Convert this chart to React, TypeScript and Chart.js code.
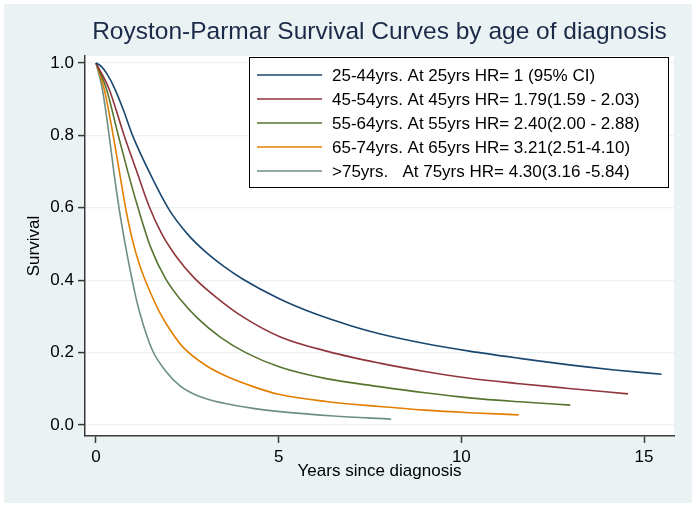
import React, { useEffect, useRef } from "react";
import { Chart, registerables } from "chart.js";

Chart.register(...registerables);

// ---------- data ----------
const chartTitle = "Royston-Parmar Survival Curves by age of diagnosis";
const xAxisTitle = "Years since diagnosis";
const yAxisTitle = "Survival";

const seriesLabels = [
  "25-44yrs. At 25yrs HR= 1 (95% CI)",
  "45-54yrs. At 45yrs HR= 1.79(1.59 - 2.03)",
  "55-64yrs. At 55yrs HR= 2.40(2.00 - 2.88)",
  "65-74yrs. At 65yrs HR= 3.21(2.51-4.10)",
  ">75yrs.   At 75yrs HR= 4.30(3.16 -5.84)",
];

const seriesColors = ["#1a476f", "#90353b", "#55752f", "#e37e00", "#6e8e84"];

const years25to44 = [0, 0.15, 0.3, 0.5, 0.75, 1.0, 1.5, 2.0, 2.5, 3.0, 3.5, 4.0, 5.03, 6.0, 6.95, 7.76, 9.0, 10.22, 11.6, 12.95, 14.2, 15.48];
const surv25to44 = [1.0, 0.99, 0.97, 0.932, 0.87, 0.8, 0.69, 0.595, 0.528, 0.478, 0.438, 0.404, 0.348, 0.307, 0.275, 0.252, 0.225, 0.204, 0.184, 0.166, 0.152, 0.14];

const years45to54 = [0, 0.35, 0.77, 1.1, 1.45, 1.8, 2.2, 2.7, 3.3, 4.0, 5.03, 6.39, 7.76, 9.0, 10.22, 11.6, 12.95, 14.56];
const surv45to54 = [1.0, 0.93, 0.8, 0.705, 0.605, 0.528, 0.465, 0.405, 0.352, 0.3, 0.244, 0.202, 0.171, 0.148, 0.129, 0.114, 0.101, 0.086];

const years55to64 = [0, 0.28, 0.61, 0.87, 1.15, 1.5, 1.9, 2.3, 2.8, 3.4, 4.1, 5.03, 6.3, 7.76, 9.0, 10.22, 11.6, 12.98];
const surv55to64 = [1.0, 0.93, 0.8, 0.7, 0.6, 0.49, 0.405, 0.348, 0.293, 0.243, 0.2, 0.16, 0.128, 0.106, 0.089, 0.075, 0.064, 0.055];

const years65to74 = [0, 0.22, 0.47, 0.64, 0.81, 1.0, 1.2, 1.45, 1.75, 2.1, 2.4, 3.0, 3.6, 4.3, 5.03, 6.3, 7.76, 9.0, 10.22, 11.57];
const surv65to74 = [1.0, 0.93, 0.8, 0.7, 0.6, 0.51, 0.44, 0.375, 0.31, 0.252, 0.213, 0.165, 0.133, 0.106, 0.084, 0.065, 0.051, 0.041, 0.034, 0.028];

const years75plus = [0, 0.17, 0.36, 0.5, 0.63, 0.78, 0.95, 1.12, 1.3, 1.55, 1.9, 2.3, 2.8, 3.5, 4.3, 5.03, 6.5, 8.08];
const surv75plus = [1.0, 0.93, 0.8, 0.69, 0.6, 0.51, 0.42, 0.34, 0.275, 0.205, 0.15, 0.108, 0.08, 0.06, 0.046, 0.037, 0.025, 0.016];

const xTicks = [0, 5, 10, 15];
const yTicks = [0, 0.2, 0.4, 0.6, 0.8, 1.0];

// ---------- styling ----------
const FONT = "'Liberation Sans', Arial, sans-serif";
const BG = "#eaf2f3";
const AXIS = "#3a3a3a";
const TEXT = "#000000";
const TITLE = "#1a2a48";

const seriesX = [years25to44, years45to54, years55to64, years65to74, years75plus];
const seriesY = [surv25to44, surv45to54, surv55to64, surv65to74, surv75plus];

const plotBgPlugin = {
  id: "plotBg",
  beforeDraw(chart: any) {
    const { ctx, chartArea } = chart;
    ctx.save();
    ctx.fillStyle = "#ffffff";
    ctx.fillRect(chartArea.left, chartArea.top, chartArea.right - chartArea.left, chartArea.bottom - chartArea.top);
    ctx.restore();
  },
};

const plotTitlePlugin = {
  id: "plotTitle",
  afterDraw(chart: any) {
    const { ctx, chartArea } = chart;
    ctx.save();
    ctx.fillStyle = TITLE;
    ctx.font = `24.5px ${FONT}`;
    ctx.textAlign = "center";
    ctx.textBaseline = "middle";
    ctx.fillText(chartTitle, (chartArea.left + chartArea.right) / 2, 28);
    ctx.restore();
  },
};

const boxLegendPlugin = {
  id: "boxLegend",
  afterDatasetsDraw(chart: any) {
    const { ctx, chartArea } = chart;
    const w = 419;
    const h = 130;
    const x0 = Math.round(chartArea.right - 6 - w);
    const y0 = Math.round(chartArea.top + 1);
    ctx.save();
    ctx.fillStyle = "#ffffff";
    ctx.fillRect(x0, y0, w, h);
    ctx.strokeStyle = "#000000";
    ctx.lineWidth = 1;
    ctx.strokeRect(x0 + 0.5, y0 + 0.5, w, h);
    chart.data.datasets.forEach((ds: any, i: number) => {
      const y = y0 + 18 + i * 24;
      ctx.strokeStyle = ds.borderColor;
      ctx.lineWidth = 1.6;
      ctx.beginPath();
      ctx.moveTo(x0 + 8, y);
      ctx.lineTo(x0 + 73, y);
      ctx.stroke();
      ctx.fillStyle = TEXT;
      ctx.font = `17px ${FONT}`;
      ctx.textBaseline = "middle";
      ctx.textAlign = "left";
      ctx.fillText(ds.label, x0 + 83, y + 1);
    });
    ctx.restore();
  },
};

export default function App() {
  const ref = useRef<HTMLCanvasElement | null>(null);

  useEffect(() => {
    if (!ref.current) return;
    Chart.defaults.font.family = FONT;
    const datasets = seriesLabels.map((label, i) => ({
      label,
      data: seriesX[i].map((x, j) => ({ x, y: seriesY[i][j] })),
      borderColor: seriesColors[i],
      backgroundColor: seriesColors[i],
      borderWidth: 1.6,
      pointRadius: 0,
      showLine: true,
      fill: false,
      cubicInterpolationMode: "monotone" as const,
    }));

    const chart = new Chart(ref.current, {
      type: "scatter",
      data: { datasets },
      options: {
        responsive: false,
        animation: false,
        layout: { padding: { left: 0, right: 18, top: 52, bottom: 0 } },
        plugins: {
          legend: { display: false },
          tooltip: { enabled: false },
          title: { display: false },
        },
        scales: {
          x: {
            type: "linear",
            min: -0.301,
            max: 15.82,
            afterBuildTicks: (s: any) => {
              s.ticks = xTicks.map((v) => ({ value: v }));
            },
            afterFit: (s: any) => {
              s.height = 67;
            },
            ticks: {
              color: TEXT,
              font: { size: 17 },
              padding: 4,
              maxRotation: 0,
              callback: (v: any) => String(v),
            },
            grid: {
              drawOnChartArea: false,
              drawTicks: true,
              tickLength: 7,
              tickWidth: 1.5,
              tickColor: AXIS,
            },
            border: { color: AXIS, width: 1.5 },
            title: {
              display: true,
              text: xAxisTitle,
              color: TEXT,
              font: { size: 17 },
              padding: { top: 0, bottom: 21 },
            },
          },
          y: {
            type: "linear",
            min: -0.0304,
            max: 1.0193,
            afterBuildTicks: (s: any) => {
              s.ticks = yTicks.map((v) => ({ value: v }));
            },
            afterFit: (s: any) => {
              s.width = 81;
            },
            ticks: {
              color: TEXT,
              font: { size: 17 },
              padding: 4,
              callback: (v: any) => Number(v).toFixed(1),
            },
            grid: {
              color: BG,
              lineWidth: 1.2,
              drawTicks: true,
              tickLength: 7,
              tickWidth: 1.5,
              tickColor: AXIS,
            },
            border: { color: AXIS, width: 1.5 },
            title: {
              display: true,
              text: yAxisTitle,
              color: TEXT,
              font: { size: 17 },
              padding: { top: 20, bottom: 0 },
            },
          },
        },
      },
      plugins: [plotBgPlugin, boxLegendPlugin, plotTitlePlugin],
    });
    return () => chart.destroy();
  }, []);

  return (
    <div style={{ position: "absolute", left: 0, top: 0, width: 696, height: 508, background: "#ffffff" }}>
      <div style={{ position: "absolute", left: 4, top: 4, width: 688, height: 499, background: BG }}>
        <canvas ref={ref} width={688} height={499} style={{ display: "block", width: 688, height: 499 }} />
      </div>
    </div>
  );
}
